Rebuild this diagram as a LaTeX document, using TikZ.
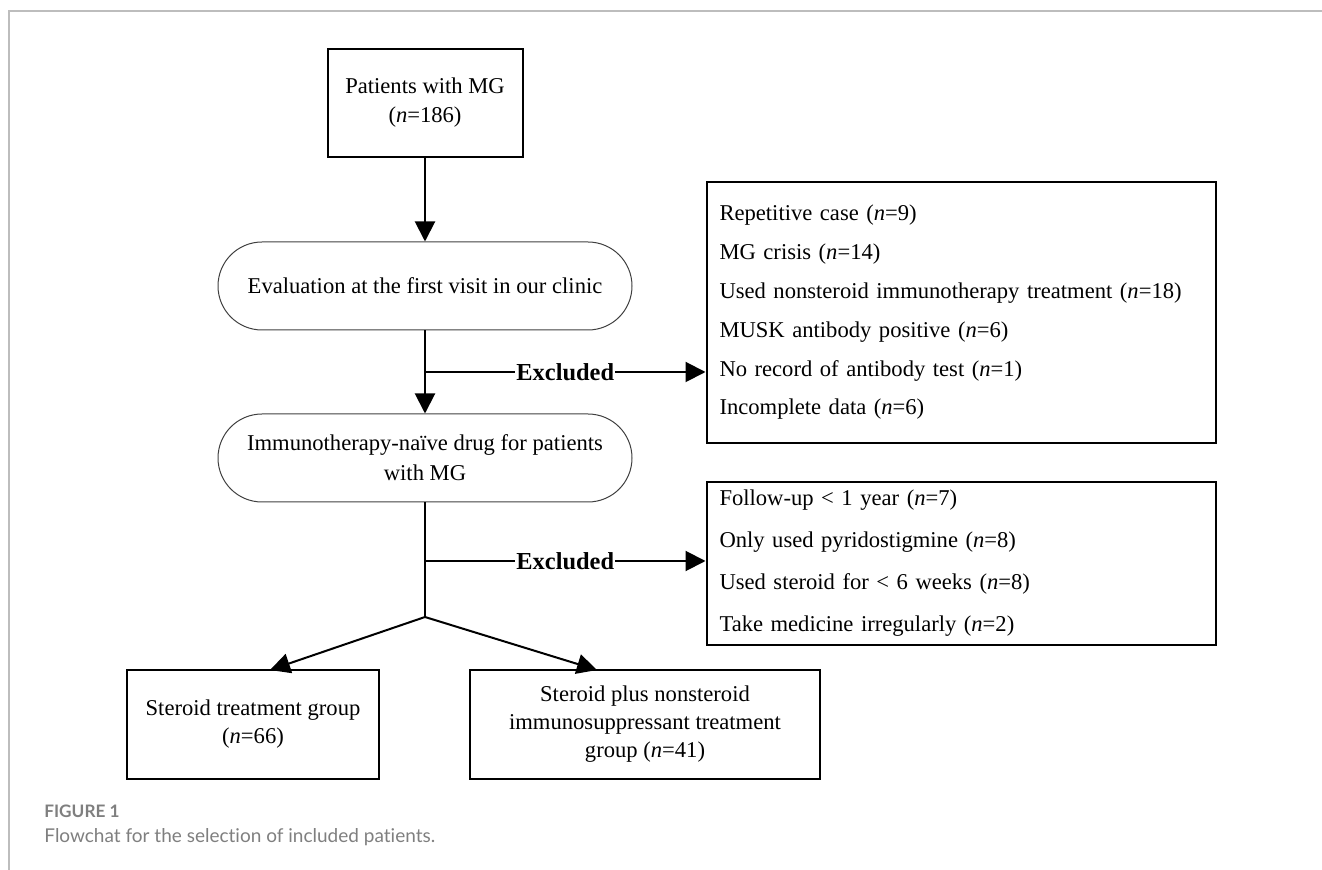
\documentclass[tikz,border=0pt]{standalone}
\usepackage{fontspec}
\setmainfont{Liberation Serif}
\newfontfamily\capfont[Ligatures=NoCommon]{Lato}
\usetikzlibrary{arrows.meta}
\usetikzlibrary{positioning}
\definecolor{framegray}{HTML}{BDBDBD}
\definecolor{capgray}{HTML}{7F7F7F}
\newcommand{\bodyfont}[1]{\fontsize{11.3}{#1}\selectfont}
\tikzstyle{rbox}=[rectangle,draw=black,line width=1pt,inner sep=0pt,align=center]
\tikzstyle{rnd}=[rectangle,rounded corners=22pt,draw=black!75,line width=0.5pt,inner sep=0pt,align=center,minimum width=207pt,minimum height=44pt]
\tikzstyle{lst}=[rbox,align=left,inner xsep=6.5pt,minimum width=254.5pt]
\tikzstyle{arr}=[-{Triangle[length=10pt,width=10pt]},draw=black,line width=1pt]
\tikzstyle{excl}=[fill=white,inner sep=0.5pt,font=\fontsize{12.2}{14}\selectfont\bfseries]

\begin{document}
\begin{tikzpicture}[x=0.5pt,y=-0.5pt]
  \useasboundingbox (0,0) rectangle (1322,870);
  \draw[framegray,line width=1pt] (9,870) -- (9,11) -- (1322,11);
  % main column
  \node[rbox,minimum width=97.5pt,minimum height=54pt,font=\bodyfont{14.5}] (pat) at (425,103) {Patients with MG\\(\textit{n}=186)};
  \node[rnd,font=\bodyfont{15}] (eval) at (425,286) {Evaluation at the first visit in our clinic};
  \node[rnd,font=\bodyfont{15}] (imm) at (425,458) {Immunotherapy-na\"ive drug for patients\\with MG};
  % exclusion lists
  \node[lst,minimum height=130.5pt,text width=241.5pt,font=\bodyfont{19.4}] (ex1) at (961,312.5) {Repetitive case (\textit{n}=9)\\MG crisis (\textit{n}=14)\\Used nonsteroid immunotherapy treatment (\textit{n}=18)\\MUSK antibody positive (\textit{n}=6)\\No record of antibody test (\textit{n}=1)\\Incomplete data (\textit{n}=6)};
  \node[lst,minimum height=81.5pt,text width=241.5pt,font=\bodyfont{21}] (ex2) at (961,563.5) {Follow-up \textless{} 1 year (\textit{n}=7)\\Only used pyridostigmine (\textit{n}=8)\\Used steroid for \textless{} 6 weeks (\textit{n}=8)\\Take medicine irregularly (\textit{n}=2)};
  % groups
  \node[rbox,minimum width=126pt,minimum height=54.5pt,font=\bodyfont{14}] (st) at (253,724.5) {Steroid treatment group\\(\textit{n}=66)};
  \node[rbox,minimum width=175pt,minimum height=54.5pt,font=\bodyfont{14}] (stn) at (645,724.5) {Steroid plus nonsteroid\\immunosuppressant treatment\\group (\textit{n}=41)};
  \coordinate (b1) at (425,372);
  \coordinate (b2) at (425,561);
  \coordinate (sp) at (425,617);
  \coordinate (stin) at (270,670);
  \coordinate (stnin) at (597,670);
  \draw[arr] (pat) edge (eval);
  \draw[arr] (eval) edge (imm);
  \draw[arr] (b1) -- node[excl] {Excluded} (b1 -| ex1.west);
  \draw[arr] (b2) -- node[excl] {Excluded} (b2 -| ex2.west);
  \draw[line width=1pt] (imm.south) -- (sp);
  \draw[arr] (sp) -- (stin);
  \draw[arr] (sp) -- (stnin);
  % caption
  \node[anchor=base west,inner sep=0pt,text=capgray,font=\capfont\fontsize{8.6}{10}\selectfont\bfseries] (fig) at (44,817) {FIGURE 1};
  \node[anchor=base west,inner sep=0pt,text=capgray,font=\capfont\fontsize{9.5}{11}\selectfont] (cap) at (44,842) {Flowchat for the selection of included patients.};
\end{tikzpicture}
\end{document}
